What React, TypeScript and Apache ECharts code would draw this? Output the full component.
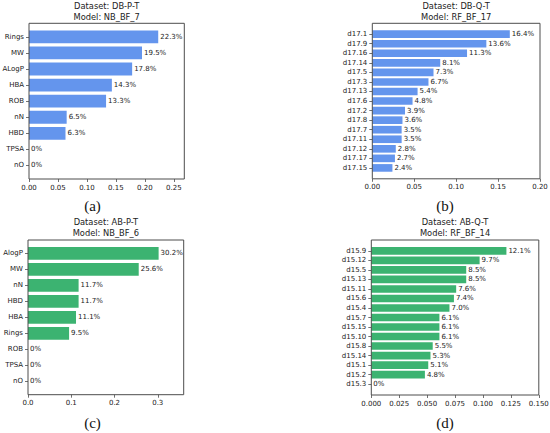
import React, { useEffect, useRef } from "react";
import * as echarts from "echarts";

// ---- data ----
const aTitle = ["Dataset: DB-P-T", "Model: NB_BF_7"];
const aCats = ["Rings", "MW", "ALogP", "HBA", "ROB", "nN", "HBD", "TPSA", "nO"];
const aVals = [0.223, 0.195, 0.178, 0.143, 0.133, 0.065, 0.063, 0, 0];
const aTicks = [0, 0.05, 0.1, 0.15, 0.2, 0.25];

const bTitle = ["Dataset: DB-Q-T", "Model: RF_BF_17"];
const bCats = ["d17.1", "d17.9", "d17.16", "d17.14", "d17.5", "d17.3", "d17.13", "d17.6", "d17.2", "d17.8", "d17.7", "d17.11", "d17.12", "d17.17", "d17.15"];
const bVals = [0.164, 0.136, 0.113, 0.081, 0.073, 0.067, 0.054, 0.048, 0.039, 0.036, 0.035, 0.035, 0.028, 0.027, 0.024];
const bTicks = [0, 0.05, 0.1, 0.15, 0.2];

const cTitle = ["Dataset: AB-P-T", "Model: NB_BF_6"];
const cCats = ["AlogP", "MW", "nN", "HBD", "HBA", "Rings", "ROB", "TPSA", "nO"];
const cVals = [0.302, 0.256, 0.117, 0.117, 0.111, 0.095, 0, 0, 0];
const cTicks = [0, 0.1, 0.2, 0.3];

const dTitle = ["Dataset: AB-Q-T", "Model: RF_BF_14"];
const dCats = ["d15.9", "d15.12", "d15.5", "d15.13", "d15.11", "d15.6", "d15.4", "d15.7", "d15.15", "d15.10", "d15.8", "d15.14", "d15.1", "d15.2", "d15.3"];
const dVals = [0.121, 0.097, 0.085, 0.085, 0.076, 0.074, 0.07, 0.061, 0.061, 0.061, 0.055, 0.053, 0.051, 0.048, 0];
const dTicks = [0, 0.025, 0.05, 0.075, 0.1, 0.125, 0.15];

const subLabels = ["(a)", "(b)", "(c)", "(d)"];

// ---- layout / style ----
const BLUE = "#6495ED";
const GREEN = "#3CB371";
const FRAME = "#4d4d4d";
const TEXT = "#222";
const FONT = "'DejaVu Sans', sans-serif";

type Panel = {
  title: string[];
  cats: string[];
  vals: number[];
  ticks: number[];
  max: number;
  decimals: number;
  color: string;
  frame: { L: number; T: number; R: number; B: number };
  sub: { x: number; y: number };
};

const panels: Panel[] = [
  { title: aTitle, cats: aCats, vals: aVals, ticks: aTicks, max: 0.268, decimals: 2, color: BLUE, frame: { L: 29, T: 23.3, R: 184.3, B: 179 }, sub: { x: 92.5, y: 206 } },
  { title: bTitle, cats: bCats, vals: bVals, ticks: bTicks, max: 0.2, decimals: 2, color: BLUE, frame: { L: 372.3, T: 23.3, R: 540, B: 178.8 }, sub: { x: 445, y: 206 } },
  { title: cTitle, cats: cCats, vals: cVals, ticks: cTicks, max: 0.36, decimals: 1, color: GREEN, frame: { L: 28, T: 240, R: 183.7, B: 394.7 }, sub: { x: 92.5, y: 422.5 } },
  { title: dTitle, cats: dCats, vals: dVals, ticks: dTicks, max: 0.15, decimals: 3, color: GREEN, frame: { L: 371.3, T: 240, R: 538.8, B: 395 }, sub: { x: 445, y: 423 } },
];

function pct(v: number) {
  return v === 0 ? "0%" : (v * 100).toFixed(1) + "%";
}

function buildOption() {
  const grid: any[] = [];
  const xAxis: any[] = [];
  const yAxis: any[] = [];
  const series: any[] = [];
  const graphic: any[] = [];

  panels.forEach((p, i) => {
    const { L, T, R, B } = p.frame;
    const N = p.cats.length;
    const span = N - 0.2;
    const ppu = (B - T) / (span * 1.1);
    const inset = (0.05 * span - 0.1) * ppu;

    grid.push({
      left: L,
      top: T + inset,
      width: R - L,
      height: B - T - 2 * inset,
      containLabel: false,
      outerBoundsMode: "none",
    });

    const tickSet = p.ticks.map((t) => t.toFixed(p.decimals));
    xAxis.push({
      type: "value",
      gridIndex: i,
      min: 0,
      max: p.max,
      interval: p.ticks[1] - p.ticks[0],
      offset: inset,
      splitLine: { show: false },
      axisLine: { show: false },
      axisTick: { show: true, length: 3, lineStyle: { color: FRAME, width: 0.8 }, customValues: p.ticks },
      axisLabel: {
        show: true,
        margin: 5,
        fontSize: 7,
        fontFamily: FONT,
        color: TEXT,
        customValues: p.ticks,
        showMinLabel: true,
        showMaxLabel: true,
        formatter: (v: number) => {
          const s = v.toFixed(p.decimals);
          return tickSet.includes(s) ? s : "";
        },
      },
    });

    yAxis.push({
      type: "category",
      gridIndex: i,
      data: p.cats,
      inverse: true,
      axisLine: { show: false },
      axisTick: { show: true, alignWithLabel: true, length: 3, lineStyle: { color: FRAME, width: 0.8 } },
      axisLabel: { margin: 5, fontSize: 7, fontFamily: FONT, color: TEXT, interval: 0 },
      splitLine: { show: false },
    });

    series.push({
      type: "bar",
      xAxisIndex: i,
      yAxisIndex: i,
      data: p.vals,
      barWidth: "80%",
      itemStyle: { color: p.color },
      label: {
        show: true,
        position: "right",
        distance: 2,
        fontSize: 7,
        fontFamily: FONT,
        color: TEXT,
        formatter: (d: any) => pct(d.value),
      },
      silent: true,
    });

    graphic.push({
      type: "rect",
      silent: true,
      z: 100,
      shape: { x: L, y: T, width: R - L, height: B - T },
      style: { fill: "none", stroke: FRAME, lineWidth: 1 },
    });

    const cx = (L + R) / 2;
    graphic.push({
      type: "text",
      silent: true,
      x: cx,
      y: T - 17.6,
      style: { text: p.title[0], font: `8.3px ${FONT}`, fill: TEXT, textAlign: "center", textVerticalAlign: "middle", verticalAlign: "middle" },
    });
    graphic.push({
      type: "text",
      silent: true,
      x: cx,
      y: T - 6.8,
      style: { text: p.title[1], font: `8.3px ${FONT}`, fill: TEXT, textAlign: "center", textVerticalAlign: "middle", verticalAlign: "middle" },
    });
    graphic.push({
      type: "text",
      silent: true,
      x: p.sub.x,
      y: p.sub.y,
      style: { text: subLabels[i], font: `15px 'Liberation Serif', serif`, fill: "#111", textAlign: "center", textVerticalAlign: "middle", verticalAlign: "middle" },
    });
  });

  return {
    animation: false,
    backgroundColor: "#fff",
    grid,
    xAxis,
    yAxis,
    series,
    graphic,
  };
}

export default function App() {
  const ref = useRef<HTMLDivElement>(null);
  useEffect(() => {
    if (!ref.current) return;
    const chart = echarts.init(ref.current, undefined, { renderer: "svg" });
    chart.setOption(buildOption() as any);
    return () => chart.dispose();
  }, []);
  return (
    <div
      ref={ref}
      style={{ position: "absolute", left: 0, top: 0, width: 550, height: 433, background: "#fff" }}
    />
  );
}
